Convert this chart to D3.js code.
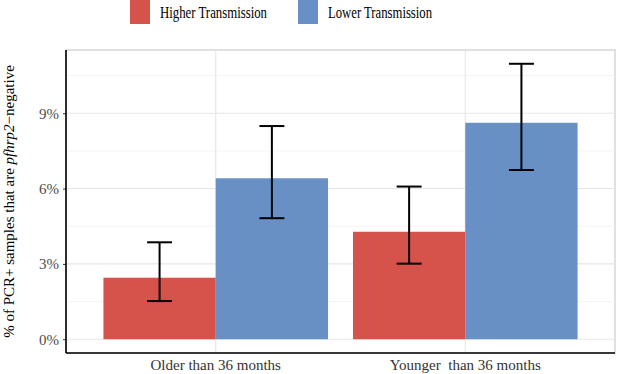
<!DOCTYPE html>
<html>
<head>
<meta charset="utf-8">
<script src="https://cdn.jsdelivr.net/npm/d3@7"></script>
<style>
  body { margin: 0; background: #fff; }
  text { font-family: "Liberation Serif", "Times New Roman", serif; }
</style>
</head>
<body>
<div id="chart"></div>
<script>
// data
var ageGroups = ["Older than 36 months", "Younger  than 36 months"];
var transmission = ["Higher Transmission", "Lower Transmission"];
var colors = ["#d5534b", "#6890c4"];
var higherVals = [2.45, 4.28];
var higherLo = [1.52, 3.01];
var higherHi = [3.86, 6.08];
var lowerVals = [6.41, 8.62];
var lowerLo = [4.82, 6.74];
var lowerHi = [8.49, 10.97];
var yTicks = [0, 3, 6, 9];

var margin = {top: 50, right: 2, bottom: 21, left: 66},
    W = 617, H = 374,
    width = W - margin.left - margin.right,
    height = H - margin.top - margin.bottom;

var rows = [];
ageGroups.forEach(function(g, i) {
  rows.push({group: g, series: transmission[0], value: higherVals[i], lo: higherLo[i], hi: higherHi[i]});
  rows.push({group: g, series: transmission[1], value: lowerVals[i], lo: lowerLo[i], hi: lowerHi[i]});
});

var svg = d3.select("#chart").append("svg")
    .attr("width", W).attr("height", H);

var g = svg.append("g").attr("transform", "translate(" + margin.left + "," + margin.top + ")");

// ggplot style expansion (5% each side)
var yMax = d3.max(rows, d => d.hi);
var y = d3.scaleLinear()
    .domain([-yMax * 0.05, yMax * 1.05])
    .range([height, 0]);

// discrete axis: centers at 0.6 and 1.6 of a 2.2 unit range
var x = d3.scalePoint()
    .domain(ageGroups)
    .range([width * 0.6 / 2.2, width * 1.6 / 2.2]);
var unit = width / 2.2;
var sub = d3.scaleBand().domain(transmission).range([-0.45 * unit, 0.45 * unit]);

// panel border
g.append("rect")
    .attr("x", 0).attr("y", 0)
    .attr("width", width).attr("height", height)
    .attr("fill", "none").attr("stroke", "#cccccc").attr("stroke-width", 1.2);

// minor grid
var minor = yTicks.map(t => t + 1.5);
g.selectAll(".minor").data(minor).enter().append("line")
    .attr("x1", 0).attr("x2", width)
    .attr("y1", d => y(d)).attr("y2", d => y(d))
    .attr("stroke", "#f0f0f0").attr("stroke-width", 0.8);

// major grid
g.selectAll(".major").data(yTicks).enter().append("line")
    .attr("x1", 0).attr("x2", width)
    .attr("y1", d => y(d)).attr("y2", d => y(d))
    .attr("stroke", "#e6e6e6").attr("stroke-width", 1.1);

g.selectAll(".vgrid").data(ageGroups).enter().append("line")
    .attr("x1", d => x(d)).attr("x2", d => x(d))
    .attr("y1", 0).attr("y2", height)
    .attr("stroke", "#e6e6e6").attr("stroke-width", 1.1);

// bars
g.selectAll(".bar").data(rows).enter().append("rect")
    .attr("x", d => x(d.group) + sub(d.series))
    .attr("width", sub.bandwidth())
    .attr("y", d => y(d.value))
    .attr("height", d => y(0) - y(d.value))
    .attr("fill", d => colors[transmission.indexOf(d.series)]);

// error bars
var capW = 0.1 * unit;
function mid(d) { return x(d.group) + sub(d.series) + sub.bandwidth() / 2; }
var eb = g.selectAll(".err").data(rows).enter().append("g")
    .attr("stroke", "#000").attr("stroke-width", 2);
eb.append("line")
    .attr("x1", mid).attr("x2", mid)
    .attr("y1", d => y(d.lo)).attr("y2", d => y(d.hi));
eb.append("line")
    .attr("x1", d => mid(d) - capW / 2).attr("x2", d => mid(d) + capW / 2)
    .attr("y1", d => y(d.lo)).attr("y2", d => y(d.lo));
eb.append("line")
    .attr("x1", d => mid(d) - capW / 2).attr("x2", d => mid(d) + capW / 2)
    .attr("y1", d => y(d.hi)).attr("y2", d => y(d.hi));

// y axis
var yAxis = g.append("g")
    .attr("font-family", "Liberation Serif")
    .call(d3.axisLeft(y).tickValues(yTicks).tickSize(3).tickFormat(d => d + "%"));
yAxis.attr("font-family", "Liberation Serif").attr("font-size", 15);
yAxis.select(".domain").remove();
yAxis.selectAll(".tick line").attr("stroke", "#333");
yAxis.selectAll(".tick text").attr("fill", "#4d4d4d").attr("x", -7);

// x axis labels
g.selectAll(".xlab").data(ageGroups).enter().append("text")
    .attr("x", d => x(d)).attr("y", height + 17)
    .attr("text-anchor", "middle")
    .attr("fill", "#333")
    .style("font-size", "15px")
    .style("white-space", "pre")
    .text(d => d);

// axis lines
g.append("line").attr("x1", 0).attr("x2", 0).attr("y1", 0).attr("y2", height)
    .attr("stroke", "#000").attr("stroke-width", 1.6);
g.append("line").attr("x1", 0).attr("x2", width).attr("y1", height).attr("y2", height)
    .attr("stroke", "#000").attr("stroke-width", 1.6);

// y title
var yt = svg.append("text")
    .attr("transform", "translate(14," + (margin.top + height / 2) + ") rotate(-90)")
    .attr("text-anchor", "middle")
    .style("font-size", "15px")
    .attr("fill", "#000");
yt.append("tspan").text("% of PCR+ samples that are ");
yt.append("tspan").style("font-style", "italic").text("pfhrp2");
yt.append("tspan").text("\u2212negative");

// legend
var legX = [130, 298];
var legLen = [107, 104];
var leg = svg.selectAll(".leg").data(transmission).enter().append("g")
    .attr("transform", (d, i) => "translate(" + legX[i] + ",0)");
leg.append("rect").attr("x", 0).attr("y", 0).attr("width", 20).attr("height", 24)
    .attr("fill", (d, i) => colors[i]);
leg.append("text").attr("x", 30).attr("y", 18)
    .style("font-size", "16px").attr("fill", "#000")
    .attr("textLength", (d, i) => legLen[i])
    .attr("lengthAdjust", "spacingAndGlyphs")
    .text(d => d);
</script>
</body>
</html>
